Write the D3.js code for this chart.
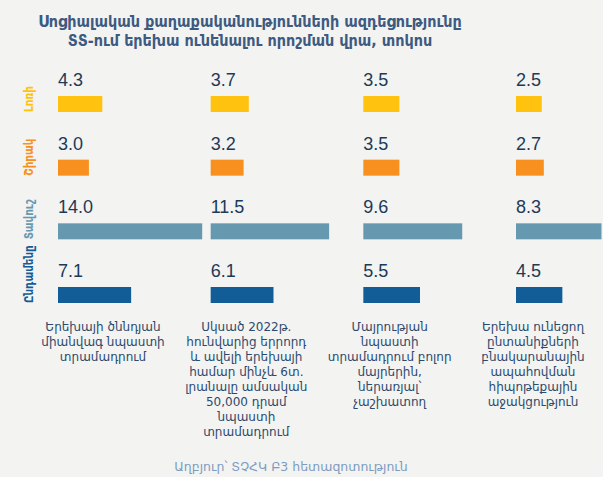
<!DOCTYPE html>
<html>
<head>
<meta charset="utf-8">
<script src="https://cdn.jsdelivr.net/npm/d3@7"></script>
<style>
  html, body { margin: 0; padding: 0; background: #f3f3f2; }
  svg { display: block; }
</style>
</head>
<body>
<svg id="chart" width="603" height="477"></svg>
<script>
// ---- data ----
const titleLines = [
  "Սոցիալական քաղաքականությունների ազդեցությունը",
  "ՏՏ-ում երեխա ունենալու որոշման վրա, տոկոս"
];
const regions = ["Լոռի", "Շիրակ", "Տավուշ", "Ընդամենը"];
const regionColors = ["#FFC20E", "#F7901E", "#6699B0", "#125C97"];
const policies = ["p1", "p2", "p3", "p4"];
const policyLabels = [
  ["Երեխայի ծննդյան", "միանվագ նպաստի", "տրամադրում"],
  ["Սկսած 2022թ.", "հունվարից երրորդ", "և ավելի երեխայի", "համար մինչև 6տ.", "լրանալը ամսական", "50,000 դրամ", "նպաստի", "տրամադրում"],
  ["Մայրության", "նպաստի", "տրամադրում բոլոր", "մայրերին,", "ներառյալ՝", "չաշխատող"],
  ["Երեխա ունեցող", "ընտանիքների", "բնակարանային", "ապահովման", "հիպոթեքային", "աջակցություն"]
];
// values[region][policy]
const lori   = [4.3, 3.7, 3.5, 2.5];
const shirak = [3.0, 3.2, 3.5, 2.7];
const tavush = [14.0, 11.5, 9.6, 8.3];
const total  = [7.1, 6.1, 5.5, 4.5];
const seriesValues = [lori, shirak, tavush, total];
const sourceText = "Աղբյուր՝ ՏՉՀԿ Բ3 հետազոտություն";

// ---- layout ----
const svg = d3.select("#chart");
const W = 603, H = 477;

const numFont = "'Liberation Sans', Arial, sans-serif";
const armFont = "'DejaVu Sans', sans-serif";
const armCond = "'DejaVu Sans Condensed', 'DejaVu Sans', sans-serif";

// title
svg.append("g").selectAll("text")
  .data(titleLines).join("text")
  .attr("x", 250)
  .attr("y", (d, i) => 27 + i * 19)
  .attr("text-anchor", "middle")
  .attr("font-family", armCond)
  .attr("font-weight", "bold")
  .attr("font-size", 16)
  .attr("fill", "#3d5a80")
  .text(d => d);

// scales
const xCol = d3.scalePoint().domain(policies).range([58, 516]);
const xLabel = d3.scalePoint().domain(policies).range([103, 533]);
const yRow = d3.scalePoint().domain(regions).range([96, 287]);
const wScale = d3.scaleLinear().domain([0, 1]).range([0, 10.3]);
const barH = 16;
const color = d3.scaleOrdinal().domain(regions).range(regionColors);

// cells
const cells = [];
regions.forEach((r, ri) => {
  policies.forEach((p, pi) => {
    cells.push({ region: r, policy: p, value: seriesValues[ri][pi] });
  });
});

const g = svg.append("g");
g.selectAll("rect.bar")
  .data(cells).join("rect")
  .attr("class", "bar")
  .attr("x", d => xCol(d.policy))
  .attr("y", d => yRow(d.region))
  .attr("width", d => Math.min(wScale(d.value), W - xCol(d.policy)))
  .attr("height", barH)
  .attr("fill", d => color(d.region));

g.selectAll("text.val")
  .data(cells).join("text")
  .attr("class", "val")
  .attr("x", d => xCol(d.policy))
  .attr("y", d => yRow(d.region) - 10)
  .attr("font-family", numFont)
  .attr("font-size", 18)
  .attr("fill", "#1d3a57")
  .text(d => d.value.toFixed(1));

// row labels (rotated)
svg.append("g").selectAll("text")
  .data(regions).join("text")
  .attr("transform", d => `translate(33,${yRow(d) + barH}) rotate(-90)`)
  .attr("text-anchor", "start")
  .attr("font-family", armCond)
  .attr("font-weight", "bold")
  .attr("font-size", 11.5)
  .attr("fill", d => color(d))
  .text(d => d);

// policy labels
const pl = svg.append("g").selectAll("text")
  .data(policies).join("text")
  .attr("text-anchor", "middle")
  .attr("font-family", armFont)
  .attr("font-size", 12)
  .attr("fill", "#2b4a6d");
pl.each(function(p, i) {
  d3.select(this).selectAll("tspan")
    .data(policyLabels[i]).join("tspan")
    .attr("x", xLabel(p))
    .attr("y", (d, j) => 331 + j * 15)
    .text(d => d);
});

// source
svg.append("text")
  .attr("x", 291)
  .attr("y", 471)
  .attr("text-anchor", "middle")
  .attr("font-family", armFont)
  .attr("font-size", 12.5)
  .attr("fill", "#7d9cc0")
  .text(sourceText);
</script>
</body>
</html>
